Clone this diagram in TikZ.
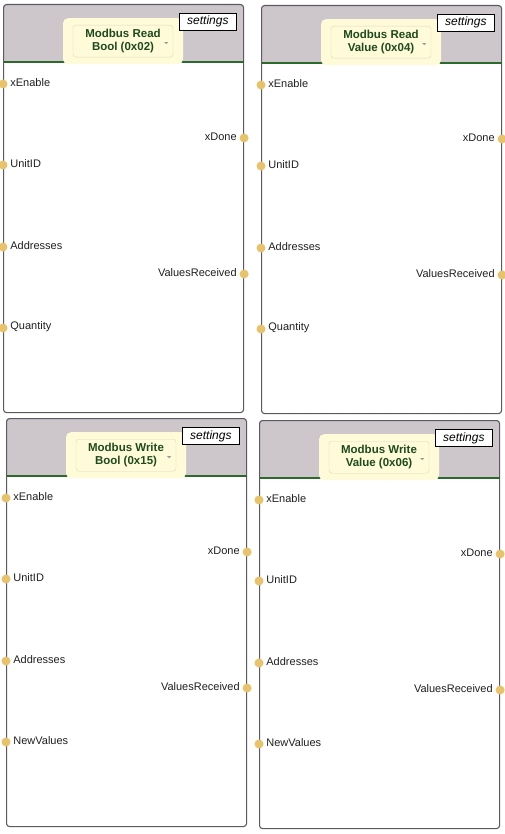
\documentclass[tikz,border=0pt]{standalone}
\usepackage{fontspec}
\setmainfont{Liberation Sans}
\usetikzlibrary{positioning,calc}
\definecolor{hdrgray}{HTML}{CDC7CC}
\definecolor{frame}{HTML}{5C5A60}
\definecolor{busgreen}{HTML}{2C6A2C}
\definecolor{titlebg}{HTML}{FFFBD8}
\definecolor{titleline}{HTML}{DDD8BC}
\definecolor{titletext}{HTML}{1E4A1E}
\definecolor{pingold}{HTML}{E8C36C}
\definecolor{arrowgray}{HTML}{9A9A9A}
\definecolor{labeltext}{HTML}{202020}
\begin{document}
\begin{tikzpicture}[x=1pt, y=-1pt,
block/.style={
draw=frame,
line width=1.1pt,
rounded corners=3pt,
fill=white,
minimum width=240pt,
minimum height=408pt,
inner sep=0pt,
anchor=north west,
path picture={\fill[hdrgray] (path picture bounding box.north west) rectangle ([yshift=-58pt]path picture bounding box.north east);}
},
titlebox/.style={
fill=titlebg,
rounded corners=5pt,
minimum width=120pt,
minimum height=46pt,
anchor=north
},
titlein/.style={
draw=titleline,
fill=titlebg,
rounded corners=3pt,
minimum width=100pt,
minimum height=32pt,
align=center,
inner sep=1pt,
text=titletext,
font=\bfseries\fontsize{11.5}{13}\selectfont
},
settingsbox/.style={
draw=black,
fill=white,
line width=0.8pt,
minimum width=57pt,
minimum height=17pt,
inner sep=1pt,
anchor=north west,
font=\itshape\fontsize{12}{13}\selectfont
},
portdot/.style={circle, fill=pingold, minimum size=9pt, inner sep=0pt},
portlabel/.style={inner sep=1pt, text=labeltext, font=\fontsize{11}{12}\selectfont}
]

\useasboundingbox (0,0) rectangle (504,834);

\foreach \bx/\by/\nm/\ta/\tb/\lastin in {
3/4/rdbool/{Modbus Read}/{Bool (0x02)}/Quantity,
261/5/rdval/{Modbus Read}/{Value (0x04)}/Quantity,
6/418/wrbool/{Modbus Write}/{Bool (0x15)}/NewValues,
259/420/wrval/{Modbus Write}/{Value (0x06)}/NewValues}{
\node[block] (\nm) at (\bx,\by) {};
\draw[busgreen, line width=2pt] ([yshift=-58pt]\nm.north west) ++(0.6pt,0) -- ([yshift=-58pt,xshift=-0.6pt]\nm.north east);
\node[titlebox] (\nm-title) at ($(\nm.north west)+(120,14)$) {};
\node[titlein] (\nm-name) at (\nm-title.center) {\ta\\\tb};
\fill[arrowgray] ($(\nm-name.east)+(-7,1)$) +(-2,0) -- +(2,0) -- +(0,2) -- cycle;
\node[settingsbox] (\nm-set) at ($(\nm.north west)+(176,9)$) {settings};

% inputs
\node[portdot] (\nm-i1) at ($(\nm.north west)+(0,80)$) {};
\node[portdot] (\nm-i2) at ($(\nm.north west)+(0,161)$) {};
\node[portdot] (\nm-i3) at ($(\nm.north west)+(0,243)$) {};
\node[portdot] (\nm-i4) at ($(\nm.north west)+(0,324)$) {};
\node[portlabel, right=1.5pt of \nm-i1, yshift=1.5pt] {xEnable};
\node[portlabel, right=1.5pt of \nm-i2, yshift=1.5pt] {UnitID};
\node[portlabel, right=1.5pt of \nm-i3, yshift=1.5pt] {Addresses};
\node[portlabel, right=1.5pt of \nm-i4, yshift=1.5pt] {\lastin};

% outputs
\node[portdot] (\nm-o1) at ($(\nm.north east)+(0,134)$) {};
\node[portdot] (\nm-o2) at ($(\nm.north east)+(0,270)$) {};
\node[portlabel, left=1.5pt of \nm-o1, yshift=1.5pt] {xDone};
\node[portlabel, left=1.5pt of \nm-o2, yshift=1.5pt] {ValuesReceived};
}

\end{tikzpicture}
\end{document}
